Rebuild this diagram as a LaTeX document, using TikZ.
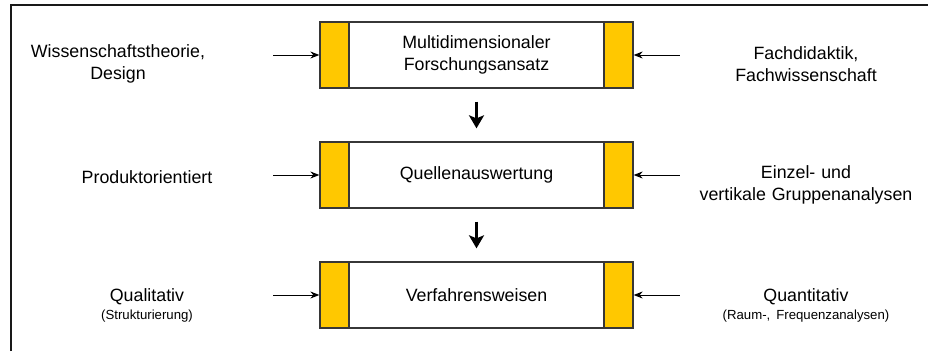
\documentclass[tikz,border=0pt]{standalone}
\usepackage{fontspec}
\setmainfont{Liberation Sans}
\usetikzlibrary{positioning,arrows.meta}
\definecolor{barfill}{RGB}{255,200,0}
\definecolor{boxline}{RGB}{55,55,55}
\newcommand{\sidenote}[1]{{\fontsize{13.2}{16}\selectfont #1}}

\begin{document}
\begin{tikzpicture}[x=1pt, y=-1pt, node distance={120pt},
    main/.style = {draw=boxline, line width=1.3pt, minimum width=313pt, minimum height=66pt,
        inner sep=0pt, text width=240pt, align=center, font=\fontsize{17.8}{22}\selectfont,
        path picture={
            \filldraw[fill=barfill, draw=boxline, line width=1.3pt]
                (path picture bounding box.north west) rectangle ([xshift=29pt]path picture bounding box.south west);
            \filldraw[fill=barfill, draw=boxline, line width=1.3pt]
                ([xshift=-29pt]path picture bounding box.north east) rectangle (path picture bounding box.south east);
        }},
    side/.style = {inner sep=0pt, text width=240pt, align=center, font=\fontsize{17.8}{22}\selectfont},
    feed/.style = {{Stealth[length=9pt,width=7pt]}-, line width=1pt},
    next/.style = {-{Stealth[length=13pt,width=15pt,inset=3pt]}, line width=2.6pt}]
        \useasboundingbox (0,0) rectangle (928,351);
        \draw[line width=2pt, black!90] (11,351) -- (11,5) -- (928,5);

        \node[main] (multi) at (476.5,55) {Multidimensionaler\\Forschungsansatz};
        \node[main] (quelle) [below of=multi] {Quellenauswertung};
        \node[main] (verfahren) [below of=quelle] {Verfahrensweisen};

        \node[side] (wiss) at (118,64) {Wissenschaftstheorie,\\Design};
        \node[side] (fach) at (806,64) {Fachdidaktik,\\Fachwissenschaft};
        \node[side] (produkt) at (147,177) {Produktorientiert};
        \node[side] (einzel) at (806,185) {Einzel- und\\vertikale Gruppenanalysen};
        \node[side] (quali) at (147,305) {Qualitativ\\[-4pt]\sidenote{(Strukturierung)}};
        \node[side] (quanti) at (806,305) {Quantitativ\\[-4pt]\sidenote{(Raum-, Frequenzanalysen)}};

        \draw[feed] (multi.west) -- ++(-46pt,0);
        \draw[feed] (multi.east) -- ++(46pt,0);
        \draw[feed] (quelle.west) -- ++(-46pt,0);
        \draw[feed] (quelle.east) -- ++(46pt,0);
        \draw[feed] (verfahren.west) -- ++(-46pt,0);
        \draw[feed] (verfahren.east) -- ++(46pt,0);

        \draw[next] ([yshift=-13pt]multi.south) -- ([yshift=13pt]quelle.north);
        \draw[next] ([yshift=-13pt]quelle.south) -- ([yshift=13pt]verfahren.north);
    \end{tikzpicture}
\end{document}
